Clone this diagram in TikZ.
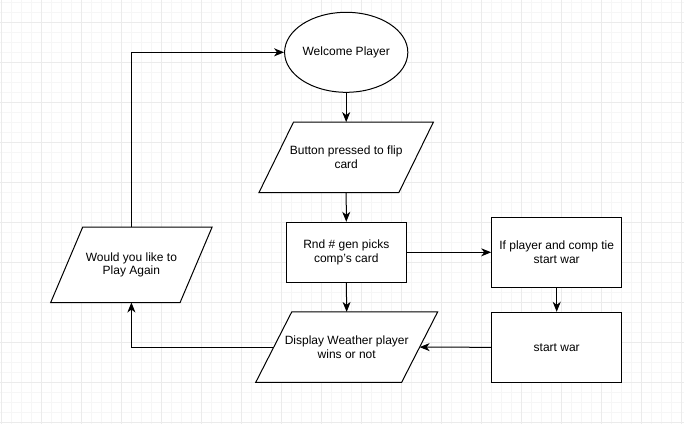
\documentclass[tikz,border=0pt]{standalone}
\usepackage{fontspec}
\setmainfont{Liberation Sans}
\usetikzlibrary{shapes.geometric,arrows.meta,calc}
\definecolor{gridminor}{HTML}{F6F6F6}
\definecolor{gridmajor}{HTML}{EBEBEB}
\begin{document}
\begin{tikzpicture}[x=1pt,y=-1pt,
  txt/.style={align=center,font=\fontsize{12}{13.5}\selectfont,inner sep=0pt},
  procbox/.style={txt,rectangle,line width=1pt,draw=black,fill=white},
  iobox/.style={txt,rectangle,draw=none},
  startbox/.style={txt,ellipse,line width=1pt,draw=black,fill=white},
  outline/.style={line width=1pt,draw=black,fill=white},
  arr/.style={line width=1pt,-{Stealth[length=10pt,width=8pt,inset=3pt]}}
]
\useasboundingbox (0,0) rectangle (684,424);
\fill[white] (0,0) rectangle (684,424);
% grid
\foreach \x in {1.7,11.7,...,684} \draw[gridminor,line width=0.8pt] (\x,0) -- (\x,424);
\foreach \y in {2.7,12.7,...,424} \draw[gridminor,line width=0.8pt] (0,\y) -- (684,\y);
\foreach \x in {1.7,41.7,...,684} \draw[gridmajor,line width=0.8pt] (\x,0) -- (\x,424);
\foreach \y in {22.7,62.7,...,424} \draw[gridmajor,line width=0.8pt] (0,\y) -- (684,\y);

% parallelogram outlines (drawn first, text nodes on top)
\newcommand{\pgram}[2]{%
  \path[outline] (#1.south west) -- ([xshift=-#2pt]#1.south east) -- (#1.north east) -- ([xshift=#2pt]#1.north west) -- cycle;
  \coordinate (#1-r) at ([xshift=-#2/2 pt]#1.east);
  \coordinate (#1-l) at ([xshift=#2/2 pt]#1.west);}

% nodes
\node[startbox,minimum width=121pt,minimum height=80pt] (welcome) at (346.2,52.3) {Welcome Player};
\node[procbox,minimum width=120pt,minimum height=60pt] (rnd) at (346.3,252.3) {Rnd \# gen picks\\comp's card};
\node[procbox,minimum width=130pt,minimum height=70pt] (ifp) at (556.7,252.3) {If player and comp tie\\start war};
\node[procbox,minimum width=130pt,minimum height=70pt] (war) at (556.7,347.3) {start war};

\path node[iobox,minimum width=174pt,minimum height=70pt] (button) at (346.2,157.3) {};
\pgram{button}{34.5}
\node[txt] (buttontxt) at (button) {Button pressed to flip\\card};

\path node[iobox,minimum width=181.5pt,minimum height=70pt] (disp) at (346.7,347.1) {};
\pgram{disp}{36}
\node[txt] (disptxt) at (disp) {Display Weather player\\wins or not};

\path node[iobox,minimum width=161pt,minimum height=75pt] (play) at (131.4,264.8) {};
\pgram{play}{32}
\node[txt] (playtxt) at (play) {Would you like to\\Play Again};

% connectors
\draw[arr] (welcome.south) -- (button.north);
\draw[arr] (button.south) -- (rnd.north);
\draw[arr] (rnd.south) -- (disp.north);
\draw[arr] (rnd.east) -- (ifp.west);
\draw[arr] (ifp.south) -- (war.north);
\draw[arr] (war.west) -- (disp-r);
\draw[arr] (disp-l) -| (play.south);
\draw[arr] (play.north) |- (welcome.west);
\end{tikzpicture}
\end{document}
